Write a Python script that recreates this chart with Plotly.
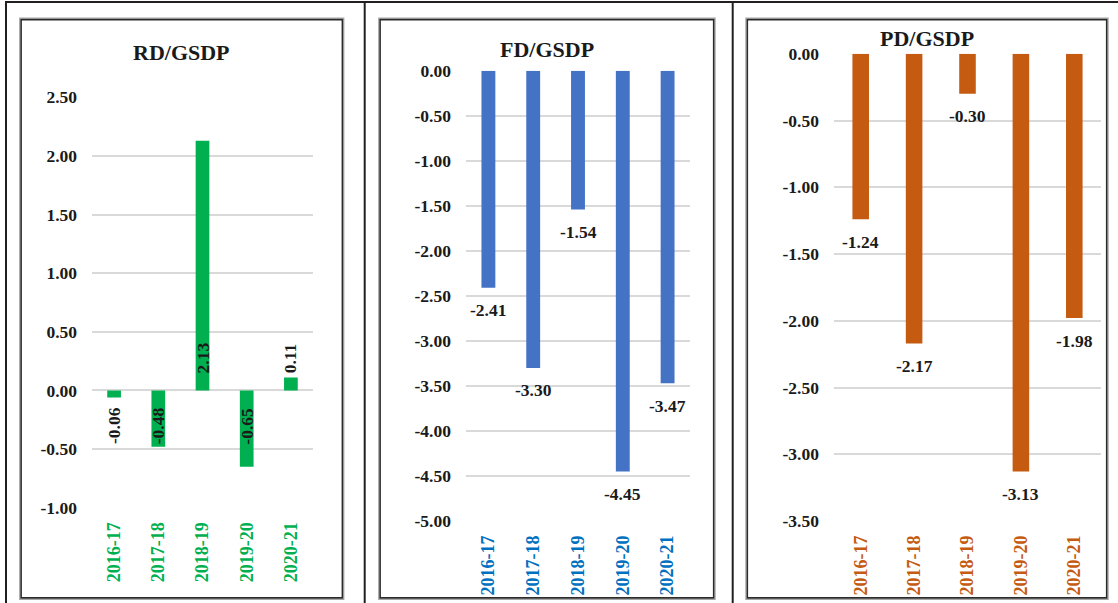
import plotly.graph_objects as go

# ---- data ----
categories = ["2016-17", "2017-18", "2018-19", "2019-20", "2020-21"]
rd_values = [-0.06, -0.48, 2.13, -0.65, 0.11]
fd_values = [-2.41, -3.30, -1.54, -4.45, -3.47]
pd_values = [-1.24, -2.17, -0.30, -3.13, -1.98]

rd_ticks = [-1.0, -0.5, 0.0, 0.5, 1.0, 1.5, 2.0, 2.5]
fd_ticks = [0.0, -0.5, -1.0, -1.5, -2.0, -2.5, -3.0, -3.5, -4.0, -4.5, -5.0]
pd_ticks = [0.0, -0.5, -1.0, -1.5, -2.0, -2.5, -3.0, -3.5]

titles = ["RD/GSDP", "FD/GSDP", "PD/GSDP"]

# ---- layout constants (pixels) ----
W, H = 1118, 603
SERIF = "Liberation Serif, Times New Roman, serif"
TEXT = "#1a1a1a"
GRID = "#d9d9d9"


def fx(px):
    return px / W


def fy(py):
    return 1 - py / H


panels = [
    dict(values=rd_values, ticks=rd_ticks, bar="#00b050", cat="#00b050",
         plot=(92, 313, 97.3, 507.7), frame=(20.5, 343, 19, 598.5),
         title_y=52, rotated=True),
    dict(values=fd_values, ticks=fd_ticks, bar="#4472c4", cat="#0070c0",
         plot=(466, 690, 70.8, 521), frame=(379.5, 714.3, 19, 598.5),
         title_y=50, rotated=False),
    dict(values=pd_values, ticks=pd_ticks, bar="#c55a11", cat="#c55a11",
         plot=(834, 1101, 53.8, 521), frame=(746.7, 1107.3, 19, 598.5),
         title_y=38, rotated=False),
]

fig = go.Figure()
annotations = []
shapes = []

for i, (p, title) in enumerate(zip(panels, titles)):
    n = "" if i == 0 else str(i + 1)
    xa, ya = "x" + n, "y" + n
    x0, x1, y0, y1 = p["plot"]
    ticks = p["ticks"]

    fig.add_trace(go.Bar(
        x=categories, y=p["values"], xaxis=xa, yaxis=ya,
        marker=dict(color=p["bar"], line=dict(width=0)),
        width=0.31, showlegend=False, hoverinfo="skip",
    ))

    fig.layout["xaxis" + n] = dict(
        domain=[fx(x0), fx(x1)], anchor=ya, type="category", automargin=False,
        showgrid=False, zeroline=False, showline=False, ticks="",
        tickangle=-90, ticklabelstandoff=10,
        tickfont=dict(family=SERIF, size=18, color=p["cat"], weight="bold"),
    )
    fig.layout["yaxis" + n] = dict(
        domain=[fy(y1), fy(y0)], anchor=xa, automargin=False,
        range=[min(ticks), max(ticks)],
        tickvals=ticks, ticktext=[f"{t:.2f}" for t in ticks],
        showgrid=True, gridcolor=GRID, gridwidth=1.5,
        zeroline=False, showline=False, ticks="", ticklabelstandoff=14,
        tickfont=dict(family=SERIF, size=17.5, color=TEXT, weight="bold"),
    )

    # value labels
    for c, v in zip(categories, p["values"]):
        if p["rotated"]:
            annotations.append(dict(
                x=c, y=0, xref=xa, yref=ya, text=f"{v:.2f}", showarrow=False,
                textangle=-90, xanchor="center",
                yanchor="top" if v < 0 else "bottom",
                yshift=-15 if v < 0 else 15,
                font=dict(family=SERIF, size=17.5, color=TEXT, weight="bold"),
            ))
        else:
            annotations.append(dict(
                x=c, y=v, xref=xa, yref=ya, text=f"{v:.2f}", showarrow=False,
                xanchor="center", yanchor="middle", yshift=-22.5,
                font=dict(family=SERIF, size=17.5, color=TEXT, weight="bold"),
            ))

    # chart title, centred on its frame
    fa, fb, fc, fd = p["frame"]
    annotations.append(dict(
        x=fx((fa + fb) / 2), y=fy(p["title_y"]), xref="paper", yref="paper",
        text=title, showarrow=False, xanchor="center", yanchor="middle",
        font=dict(family=SERIF, size=22, color=TEXT, weight="bold"),
    ))

    # chart frame with a soft shadow edge
    shapes.append(dict(type="rect", xref="paper", yref="paper",
                       x0=fx(fa - 0.8), x1=fx(fb + 0.8), y0=fy(fd + 0.8), y1=fy(fc - 0.8),
                       line=dict(color="#a6a6a6", width=1.2)))
    shapes.append(dict(type="rect", xref="paper", yref="paper",
                       x0=fx(fa + 0.6), x1=fx(fb - 0.6), y0=fy(fd - 0.6), y1=fy(fc + 0.6),
                       line=dict(color="#2b2b2b", width=1.6)))

# outer table rules
for x in (6, 364.7, 732.7):
    shapes.append(dict(type="line", xref="paper", yref="paper",
                       x0=fx(x), x1=fx(x), y0=0, y1=fy(2),
                       line=dict(color="#231f20", width=2)))
shapes.append(dict(type="line", xref="paper", yref="paper",
                   x0=fx(5), x1=1, y0=fy(2), y1=fy(2),
                   line=dict(color="#231f20", width=2.2)))

fig.update_layout(
    width=W, height=H,
    margin=dict(l=0, r=0, t=0, b=0, autoexpand=False),
    paper_bgcolor="white", plot_bgcolor="white",
    annotations=annotations, shapes=shapes,
    bargap=0.69,
)

fig.write_html(
    "out.html",
    post_script="document.body.style.margin='0';document.body.style.overflow='hidden';",
)
